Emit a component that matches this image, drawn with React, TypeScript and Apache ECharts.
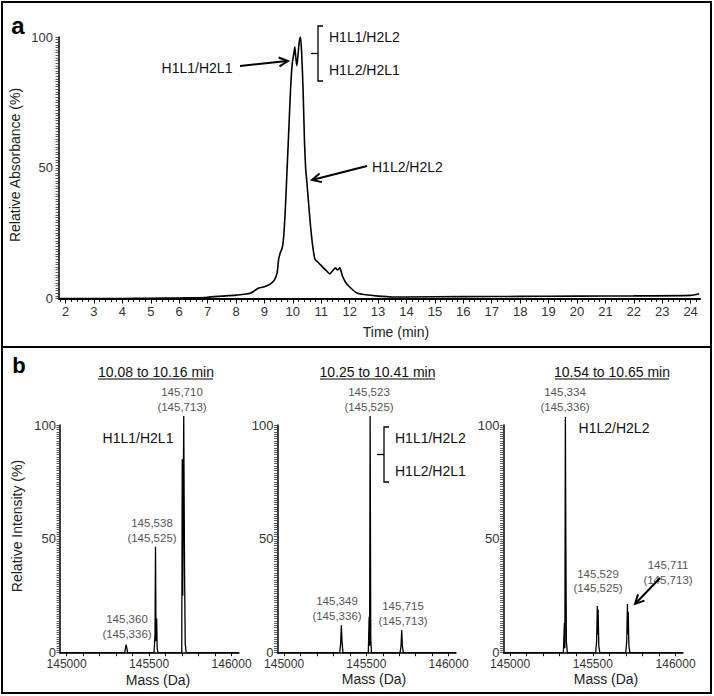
import React, { useEffect, useRef } from "react";
import * as echarts from "echarts";

// ---------- data ----------
const timeTicks = [2, 3, 4, 5, 6, 7, 8, 9, 10, 11, 12, 13, 14, 15, 16, 17, 18, 19, 20, 21, 22, 23, 24];
const absTicks = [0, 50, 100];
const chromTime = [
  1.77, 3, 4, 5, 6, 6.5, 7, 7.5, 8, 8.5, 8.8, 9.0, 9.2, 9.35, 9.45, 9.5, 9.56, 9.63, 9.68, 9.73, 9.78, 9.84,
  9.92, 9.98, 10.04, 10.07, 10.1, 10.14, 10.18, 10.23, 10.27, 10.31, 10.36, 10.41, 10.45, 10.49, 10.55, 10.62,
  10.7, 10.78, 10.92, 11.05, 11.19, 11.3, 11.42, 11.5, 11.57, 11.65, 11.75, 11.85, 12.0, 12.25, 12.5, 13.0,
  13.5, 14, 16, 18, 20, 22, 24, 24.3,
];
const chromAbs = [
  0, 0, 0, 0.1, 0.2, 0.3, 0.5, 0.9, 1.3, 2.0, 4.0, 4.5, 5.5, 7, 10, 15, 17.5, 19.5, 24, 33, 45, 60,
  80, 90, 94, 96.3, 92.5, 89, 93, 98.5, 100, 94, 80, 60, 50, 45, 37, 28,
  20, 15, 13.5, 12, 10.5, 9.4, 10.9, 11.7, 10.9, 11.7, 8.5, 6.3, 4.4, 2.1, 1.5, 0.9,
  0.6, 0.6, 0.7, 0.8, 0.9, 1.0, 1.2, 1.8,
];

const massTicks = [145000, 145500, 146000];
const intensityTicks = [0, 50, 100];

const spec1Mass = [
  144960, 145352, 145357, 145361, 145365, 145370,
  145530, 145536, 145539, 145542, 145546, 145549, 145554,
  145698, 145701, 145704, 145710, 145715, 145719, 145725, 146045,
];
const spec1Int = [
  0, 0, 2, 3.5, 2, 0,
  0, 8, 46.5, 5, 15, 2, 0,
  0, 85, 25, 104, 35, 4, 0, 0,
];

const spec2Mass = [
  144960, 145338, 145344, 145348, 145352, 145358,
  145512, 145517, 145520, 145523, 145527, 145531,
  145705, 145711, 145715, 145719, 145725, 146045,
];
const spec2Int = [
  0, 0, 4, 12, 5, 0,
  0, 15.8, 3, 104, 6, 0,
  0, 3, 10, 3, 0, 0,
];

const spec3Mass = [
  144960, 145322, 145328, 145331, 145334, 145337, 145340, 145346,
  145517, 145523, 145527, 145530, 145532, 145536, 145542,
  145699, 145705, 145709, 145712, 145714, 145718, 145724, 146045,
];
const spec3Int = [
  0, 0, 13, 2, 103.5, 47, 5, 0,
  0, 5, 20.5, 8, 19, 3, 0,
  0, 5, 21.4, 8, 18, 3, 0, 0,
];

const panelTitles = ["10.08 to 10.16 min", "10.25 to 10.41 min", "10.54 to 10.65 min"];

// ---------- helpers ----------
const FONT = "'Liberation Sans', Arial, sans-serif";

const zip = (xs: number[], ys: number[]) => xs.map((x, i) => [x, ys[i]]);

function txt(text: string, x: number, y: number, size: number, opts: any = {}) {
  return {
    type: "text",
    x,
    y,
    rotation: opts.rotation || 0,
    silent: true,
    style: {
      text,
      fill: opts.fill || "#111",
      font: `${opts.bold ? "bold " : ""}${size}px ${FONT}`,
      align: opts.align || "center",
      verticalAlign: "middle",
      textAlign: opts.align || "center",
      textVerticalAlign: "middle",
    },
  };
}

function line(x1: number, y1: number, x2: number, y2: number, w = 1.3) {
  return { type: "line", silent: true, shape: { x1, y1, x2, y2 }, style: { stroke: "#000", lineWidth: w } };
}

function arrow(x1: number, y1: number, x2: number, y2: number) {
  const dx = x2 - x1, dy = y2 - y1;
  const len = Math.hypot(dx, dy);
  const ux = dx / len, uy = dy / len;
  const px = -uy, py = ux;
  const head = 9, spread = 4.5;
  const bx = x2 - ux * head, by = y2 - uy * head;
  return [
    line(x1, y1, x2 - ux * 1, y2 - uy * 1, 2),
    {
      type: "polyline",
      silent: true,
      shape: { points: [[bx + px * spread, by + py * spread], [x2, y2], [bx - px * spread, by - py * spread]] },
      style: { stroke: "#000", lineWidth: 2, fill: null },
    },
  ];
}

function bracket(x: number, yTop: number, yBot: number) {
  const mid = (yTop + yBot) / 2;
  return [
    {
      type: "polyline",
      silent: true,
      shape: { points: [[x + 5, yTop], [x, yTop], [x, yBot], [x + 5, yBot]] },
      style: { stroke: "#000", lineWidth: 1.3, fill: null },
    },
    line(x - 7, mid, x, mid, 1.3),
  ];
}

const minorTimeTicks: number[] = [];
for (let k = 9; k <= 121; k++) minorTimeTicks.push(+(k * 0.2).toFixed(1));
const massTickValues: number[] = [];
for (let m = 145000; m <= 146000; m += 100) massTickValues.push(m);
const yTickValues: number[] = [];
for (let v = 0; v <= 100; v += 1) yTickValues.push(v);

const grids = [
  { left: 59, top: 37, width: 641, height: 261.5 },
  { left: 60, top: 425, width: 179, height: 227.7 },
  { left: 277.5, top: 425, width: 178.5, height: 227.7 },
  { left: 503.5, top: 425, width: 179.5, height: 227.7 },
];

const yAxisBase = (gridIndex: number, margin: number) => ({
  type: "value",
  gridIndex,
  min: 0,
  max: 100,
  interval: 50,
  axisLine: { show: true, lineStyle: { color: "#000", width: 1.5 } },
  axisTick: { show: true, inside: false, length: 3.5, customValues: yTickValues, lineStyle: { color: "#333", width: 0.8 } },
  splitLine: { show: false },
  axisLabel: {
    fontSize: 13,
    color: "#333",
    margin,
    fontFamily: FONT,
    customValues: gridIndex === 0 ? absTicks : intensityTicks,
    formatter: (v: number) => String(v),
  },
});

const massAxis = (gridIndex: number) => ({
  type: "value",
  gridIndex,
  position: "bottom",
  min: 144960,
  max: 146045,
  axisLine: { show: true, onZero: false, lineStyle: { color: "#000", width: 1.5 } },
  axisTick: { show: true, inside: false, length: 3.5, customValues: massTickValues, lineStyle: { color: "#000", width: 1 } },
  axisLabel: {
    fontSize: 12,
    color: "#333",
    margin: 5,
    fontFamily: FONT,
    customValues: massTicks,
    formatter: (v: number) => String(v),
  },
  splitLine: { show: false },
});

const specLine = (xAxisIndex: number, yAxisIndex: number, data: number[][]) => ({
  type: "line",
  xAxisIndex,
  yAxisIndex,
  data,
  showSymbol: false,
  symbol: "none",
  clip: false,
  lineStyle: { color: "#000", width: 1.3 },
});

export default function App() {
  const ref = useRef<HTMLDivElement>(null);
  useEffect(() => {
    if (!ref.current) return;
    const chart = echarts.init(ref.current, undefined, { renderer: "svg" });

    const underlines = [
      [98, 213],
      [320, 435],
      [555, 669],
    ];
    const titleCenters = [156, 377.5, 612];

    const graphic: any[] = [
      { type: "rect", silent: true, shape: { x: 2, y: 2, width: 709, height: 345 }, style: { stroke: "#000", lineWidth: 2, fill: null } },
      { type: "rect", silent: true, shape: { x: 2, y: 347, width: 709, height: 346 }, style: { stroke: "#000", lineWidth: 2, fill: null } },
      txt("a", 18, 25, 24, { bold: true, fill: "#000" }),
      txt("b", 19, 365, 22, { bold: true, fill: "#000" }),
      txt("Relative Absorbance (%)", 15, 165, 14, { rotation: Math.PI / 2, fill: "#222" }),
      txt("Time (min)", 396, 332, 14, { fill: "#222" }),
      txt("H1L1/H2L1", 197, 68, 14, { fill: "#111" }),
      ...arrow(240, 66, 288, 61),
      ...bracket(318, 26, 81),
      txt("H1L1/H2L2", 329, 37, 14, { align: "left" }),
      txt("H1L2/H2L1", 329, 70, 14, { align: "left" }),
      txt("H1L2/H2L2", 372, 167, 14, { align: "left" }),
      ...arrow(367, 166, 312, 180),
      txt("Relative Intensity (%)", 17, 526, 14, { rotation: Math.PI / 2, fill: "#222" }),
      txt("Mass (Da)", 158, 680, 14, { fill: "#222" }),
      txt("Mass (Da)", 374, 679, 14, { fill: "#222" }),
      txt("Mass (Da)", 606, 679, 14, { fill: "#222" }),
      ...panelTitles.map((t, i) => txt(t, titleCenters[i], 372, 14, { fill: "#111" })),
      ...underlines.map(([a, b]) => line(a, 379, b, 379, 1)),
      txt("H1L1/H2L1", 138, 438, 14),
      txt("145,710", 182, 392, 11.5, { fill: "#555" }),
      txt("(145,713)", 182, 406.5, 11.5, { fill: "#555" }),
      txt("145,538", 152, 523, 11.5, { fill: "#555" }),
      txt("(145,525)", 152, 537.5, 11.5, { fill: "#555" }),
      txt("145,360", 127, 619, 11.5, { fill: "#555" }),
      txt("(145,336)", 127, 633.5, 11.5, { fill: "#555" }),
      txt("145,523", 369, 392, 11.5, { fill: "#555" }),
      txt("(145,525)", 369, 406.5, 11.5, { fill: "#555" }),
      txt("145,349", 337, 601, 11.5, { fill: "#555" }),
      txt("(145,336)", 337, 615.5, 11.5, { fill: "#555" }),
      txt("145,715", 403, 606, 11.5, { fill: "#555" }),
      txt("(145,713)", 403, 620.5, 11.5, { fill: "#555" }),
      ...bracket(384, 427, 482),
      txt("H1L1/H2L2", 395, 438, 14, { align: "left" }),
      txt("H1L2/H2L1", 395, 471, 14, { align: "left" }),
      txt("H1L2/H2L2", 614, 428, 14),
      txt("145,334", 565, 392, 11.5, { fill: "#555" }),
      txt("(145,336)", 565, 406.5, 11.5, { fill: "#555" }),
      txt("145,529", 598, 574, 11.5, { fill: "#555" }),
      txt("(145,525)", 598, 588, 11.5, { fill: "#555" }),
      txt("145,711", 668, 565, 11.5, { fill: "#555" }),
      txt("(145,713)", 668, 579.5, 11.5, { fill: "#555" }),
      ...arrow(660, 578, 635, 604),
    ];

    chart.setOption({
      animation: false,
      textStyle: { fontFamily: FONT },
      grid: grids,
      xAxis: [
        {
          type: "value",
          gridIndex: 0,
          position: "bottom",
          min: 1.77,
          max: 24.33,
          axisLine: { show: true, onZero: false, lineStyle: { color: "#000", width: 2 } },
          axisTick: { show: true, inside: false, length: 5, customValues: timeTicks, lineStyle: { color: "#000", width: 1 } },
          axisLabel: { fontSize: 13, color: "#333", margin: 6, fontFamily: FONT, customValues: timeTicks },
          splitLine: { show: false },
        },
        {
          type: "value",
          gridIndex: 0,
          position: "bottom",
          min: 1.77,
          max: 24.33,
          axisLine: { show: false, onZero: false },
          axisTick: { show: true, inside: false, length: 3.5, customValues: minorTimeTicks, lineStyle: { color: "#000", width: 0.9 } },
          axisLabel: { show: false },
          splitLine: { show: false },
        },
        massAxis(1),
        massAxis(2),
        massAxis(3),
      ],
      yAxis: [yAxisBase(0, 6), yAxisBase(1, 4), yAxisBase(2, 4), yAxisBase(3, 4)],
      series: [
        {
          type: "line",
          xAxisIndex: 0,
          yAxisIndex: 0,
          data: zip(chromTime, chromAbs),
          showSymbol: false,
          symbol: "none",
          smooth: 0.2,
          lineStyle: { color: "#000", width: 1.6 },
        },
        specLine(2, 1, zip(spec1Mass, spec1Int)),
        specLine(3, 2, zip(spec2Mass, spec2Int)),
        specLine(4, 3, zip(spec3Mass, spec3Int)),
      ],
      graphic,
    });
    return () => chart.dispose();
  }, []);

  return (
    <div
      ref={ref}
      style={{ position: "absolute", left: 0, top: 0, width: 714, height: 696, background: "#fff" }}
    />
  );
}
